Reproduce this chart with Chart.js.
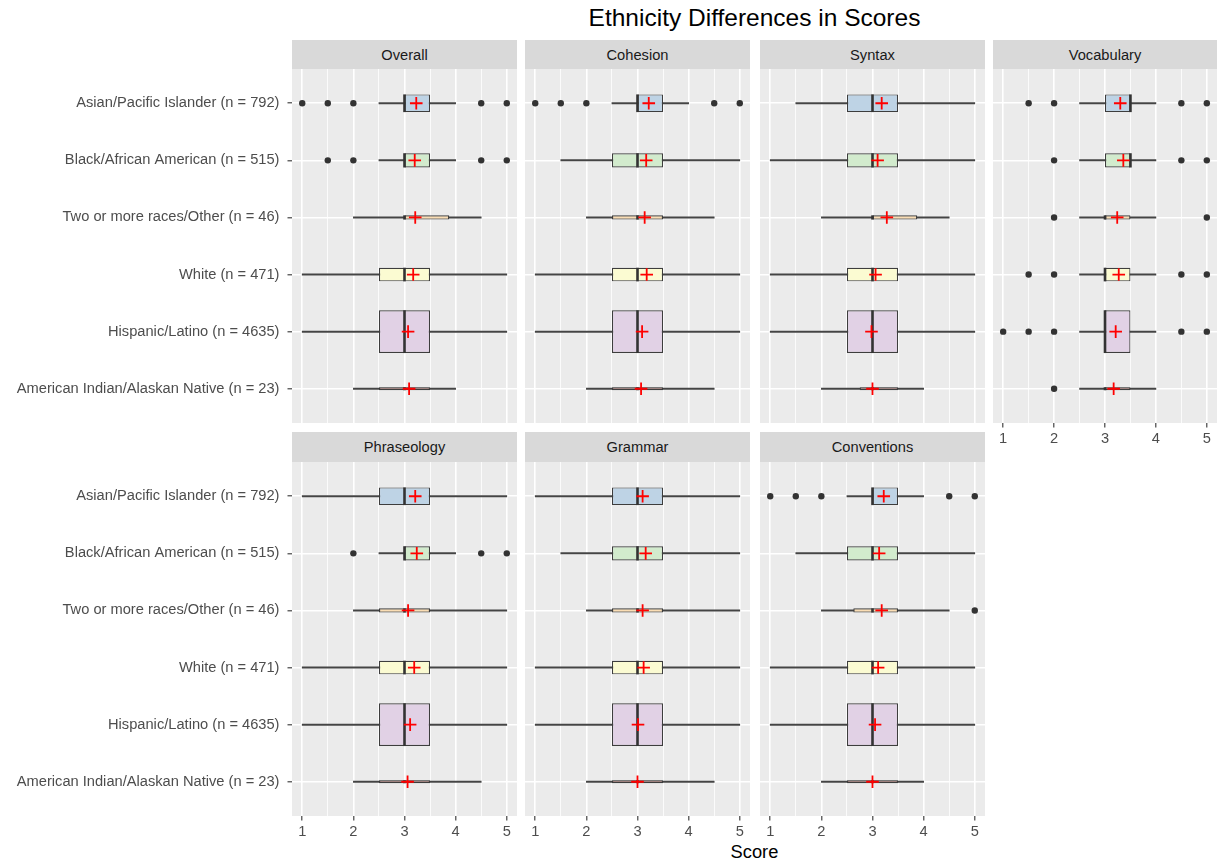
<!DOCTYPE html>
<html>
<head>
<meta charset="utf-8">
<script src="https://cdn.jsdelivr.net/npm/chart.js@4.4.1/dist/chart.umd.min.js"></script>
<style>
  body { margin: 0; background: #fff; }
  #fig { position: relative; width: 1217px; height: 865px; font-family: "Liberation Sans", Arial, sans-serif; overflow: hidden; }
  #fig canvas { position: absolute; }
  .strip { position: absolute; background: #D9D9D9; color: #1A1A1A; font-size: 14.67px;
           display: flex; align-items: center; justify-content: center; }
  #title { position: absolute; left: 292px; width: 925px; top: 6px; text-align: center;
           font-size: 24.5px; line-height: 24.5px; color: #000; }
  #xtitle { position: absolute; left: 292px; width: 925px; top: 843px; text-align: center;
            font-size: 18.3px; line-height: 18.3px; color: #000; }
</style>
</head>
<body>
<div id="fig">
  <div id="title">Ethnicity Differences in Scores</div>
  <div id="xtitle">Score</div>
</div>
<script>
// groups, top to bottom
const groups = [
  "Asian/Pacific Islander (n = 792)",
  "Black/African American (n = 515)",
  "Two or more races/Other (n = 46)",
  "White (n = 471)",
  "Hispanic/Latino (n = 4635)",
  "American Indian/Alaskan Native (n = 23)"
];
const groupN = [792, 515, 46, 471, 4635, 23];
const panels = ["Overall", "Cohesion", "Syntax", "Vocabulary", "Phraseology", "Grammar", "Conventions"];

// box stats, one row per panel, one value per group
const whiskerLow = [
  [2.5, 2.5, 2, 1, 1, 2],
  [2.5, 1.5, 2, 1, 1, 2],
  [1.5, 1, 2, 1, 1, 2],
  [2.5, 2.5, 2.5, 2.5, 2.5, 2.5],
  [1, 2.5, 2, 1, 1, 2],
  [1, 1.5, 2, 1, 1, 2],
  [2.5, 1.5, 2, 1, 1, 2]
];
const q1 = [
  [3, 3, 3, 2.5, 2.5, 2.5],
  [3, 2.5, 2.5, 2.5, 2.5, 2.5],
  [2.5, 2.5, 3, 2.5, 2.5, 2.75],
  [3, 3, 3, 3, 3, 3],
  [2.5, 3, 2.5, 2.5, 2.5, 2.5],
  [2.5, 2.5, 2.5, 2.5, 2.5, 2.5],
  [3, 2.5, 2.625, 2.5, 2.5, 2.5]
];
const median = [
  [3, 3, 3, 3, 3, 3],
  [3, 3, 3, 3, 3, 3],
  [3, 3, 3, 3, 3, 3],
  [3.5, 3.5, 3, 3, 3, 3],
  [3, 3, 3, 3, 3, 3],
  [3, 3, 3, 3, 3, 3],
  [3, 3, 3, 3, 3, 3]
];
const q3 = [
  [3.5, 3.5, 3.875, 3.5, 3.5, 3.5],
  [3.5, 3.5, 3.5, 3.5, 3.5, 3.5],
  [3.5, 3.5, 3.875, 3.5, 3.5, 3.5],
  [3.5, 3.5, 3.5, 3.5, 3.5, 3.5],
  [3.5, 3.5, 3.5, 3.5, 3.5, 3.5],
  [3.5, 3.5, 3.5, 3.5, 3.5, 3.5],
  [3.5, 3.5, 3.5, 3.5, 3.5, 3.5]
];
const whiskerHigh = [
  [4, 4, 4.5, 5, 5, 4],
  [4, 5, 4.5, 5, 5, 4.5],
  [5, 5, 4.5, 5, 5, 4],
  [4, 4, 4, 4, 4, 4],
  [5, 4, 5, 5, 5, 4.5],
  [5, 5, 5, 5, 5, 4.5],
  [4, 5, 4.5, 5, 5, 4]
];
const means = [
  [3.23, 3.20, 3.21, 3.17, 3.07, 3.09],
  [3.22, 3.17, 3.14, 3.18, 3.09, 3.07],
  [3.18, 3.10, 3.28, 3.06, 2.98, 3.00],
  [3.30, 3.36, 3.24, 3.27, 3.21, 3.17],
  [3.21, 3.24, 3.07, 3.19, 3.11, 3.06],
  [3.10, 3.16, 3.10, 3.12, 3.01, 3.00],
  [3.22, 3.13, 3.18, 3.11, 3.05, 3.00]
];
const outliers = [
  [[1, 1.5, 2, 4.5, 5], [1.5, 2, 4.5, 5], [], [], [], []],
  [[1, 1.5, 2, 4.5, 5], [], [], [], [], []],
  [[], [], [], [], [], []],
  [[1.5, 2, 4.5, 5], [2, 4.5, 5], [2, 5], [1.5, 2, 4.5, 5], [1, 1.5, 2, 4.5, 5], [2]],
  [[], [2, 4.5, 5], [], [], [], []],
  [[], [], [], [], [], []],
  [[1, 1.5, 2, 4.5, 5], [], [5], [], [], []]
];
const xTicks = [1, 1.5, 2, 2.5, 3, 3.5, 4, 4.5, 5];
const boxColors = ["#BED3E5", "#D2EBCD", "#FADDB4", "#FBFBD2", "#E1D1E5", "#F8BFBA"];

// panel placement on the page
const layout = [
  { left: 0,   top: 69,  w: 517, h: 354, yLab: true,  xLab: false },
  { left: 525, top: 69,  w: 225, h: 354, yLab: false, xLab: false },
  { left: 760, top: 69,  w: 225, h: 354, yLab: false, xLab: false },
  { left: 993, top: 69,  w: 224, h: 384, yLab: false, xLab: true },
  { left: 0,   top: 462, w: 517, h: 384, yLab: true,  xLab: true },
  { left: 525, top: 462, w: 225, h: 384, yLab: false, xLab: true },
  { left: 760, top: 462, w: 225, h: 384, yLab: false, xLab: true }
];
const Y_AXIS_W = 292;
const maxN = Math.max(...groupN);
function boxWidth(i) { return 0.75 * Math.sqrt(groupN[i] / maxN); }

const panelBg = {
  id: "panelBg",
  beforeDraw(chart) {
    const { ctx, chartArea: a } = chart;
    ctx.save();
    ctx.fillStyle = "#EBEBEB";
    ctx.fillRect(a.left, a.top, a.right - a.left, a.bottom - a.top);
    ctx.restore();
  }
};

const fig = document.getElementById("fig");
const tickFont = { family: "'Liberation Sans', Arial, sans-serif", size: 14.67 };

panels.forEach(function (name, p) {
  const L = layout[p];
  const strip = document.createElement("div");
  strip.className = "strip";
  const off = L.yLab ? Y_AXIS_W : 0;
  strip.style.left = (L.left + off) + "px";
  strip.style.width = (L.w - off) + "px";
  strip.style.top = (p < 4 ? 40 : 432) + "px";
  strip.style.height = (p < 4 ? 29 : 30) + "px";
  strip.textContent = name;
  fig.appendChild(strip);

  const cv = document.createElement("canvas");
  cv.width = L.w;
  cv.height = L.h;
  cv.style.left = L.left + "px";
  cv.style.top = L.top + "px";
  fig.appendChild(cv);

  const datasets = [];
  datasets.push({
    type: "scatter", label: "mean", order: 0,
    data: means[p].map(function (m, i) { return { x: m, y: i + 1 }; }),
    pointStyle: "cross", radius: 6.3, borderColor: "#FF0000", borderWidth: 1.8
  });
  datasets.push({
    type: "scatter", label: "outliers", order: 1,
    data: outliers[p].flatMap(function (arr, i) { return arr.map(function (v) { return { x: v, y: i + 1 }; }); }),
    pointStyle: "circle", radius: 3.2, backgroundColor: "#333333", borderWidth: 0
  });
  datasets.push({
    type: "scatter", label: "median", order: 2,
    data: median[p].map(function (m, i) { return { x: m, y: i + 1 }; }),
    pointStyle: "line", rotation: 90, borderColor: "#333333", borderWidth: 2.6,
    radius: function (ctx) {
      const ys = ctx.chart.scales.y;
      if (!ys) return 10;
      const unit = Math.abs(ys.getPixelForValue(2) - ys.getPixelForValue(1));
      return unit * boxWidth(ctx.dataIndex) / 2;
    }
  });
  groups.forEach(function (g, i) {
    datasets.push({
      type: "bar", indexAxis: "y", label: g, order: 3,
      data: [{ x: [q1[p][i], q3[p][i]], y: i + 1 }],
      backgroundColor: boxColors[i], borderColor: "#3D3D3D", borderWidth: 1.2,
      borderSkipped: false, grouped: false,
      barPercentage: boxWidth(i), categoryPercentage: 1
    });
  });
  datasets.push({
    type: "bar", indexAxis: "y", label: "whiskers", order: 4,
    data: groups.map(function (g, i) { return { x: [whiskerLow[p][i], whiskerHigh[p][i]], y: i + 1 }; }),
    backgroundColor: "#444444", borderWidth: 0, barThickness: 1.3, grouped: false
  });

  new Chart(cv, {
    type: "bar",
    data: { datasets: datasets },
    plugins: [panelBg],
    options: {
      indexAxis: "y",
      responsive: false,
      animation: false,
      events: [],
      layout: { padding: 0, autoPadding: false },
      plugins: { legend: { display: false }, tooltip: { enabled: false } },
      scales: {
        x: {
          type: "linear", min: 0.8, max: 5.2, offset: false,
          afterBuildTicks: function (s) { s.ticks = xTicks.map(function (v) { return { value: v }; }); },
          afterFit: function (s) { s.height = L.xLab ? 30 : 0; s.paddingLeft = 0; s.paddingRight = 0; },
          border: { display: false },
          grid: {
            offset: false,
            color: "#FFFFFF",
            lineWidth: function (c) { return Number.isInteger(c.tick.value) ? 1.6 : 0.8; },
            drawTicks: L.xLab, tickLength: 4.5, tickWidth: 1.1,
            tickColor: function (c) { return Number.isInteger(c.tick.value) ? "#333333" : "rgba(0,0,0,0)"; }
          },
          ticks: {
            display: L.xLab, autoSkip: false, maxRotation: 0, padding: 3,
            color: "#4D4D4D", font: tickFont,
            callback: function (v) { return Number.isInteger(v) ? String(v) : ""; }
          }
        },
        y: {
          type: "linear", min: 0.4, max: 6.6, reverse: true, offset: false,
          afterBuildTicks: function (s) { s.ticks = groups.map(function (g, i) { return { value: i + 1 }; }); },
          afterFit: function (s) { s.width = L.yLab ? Y_AXIS_W : 0; s.paddingTop = 0; s.paddingBottom = 0; },
          border: { display: false },
          grid: {
            offset: false,
            color: "#FFFFFF", lineWidth: 1.6,
            drawTicks: L.yLab, tickLength: 4.5, tickWidth: 1.1, tickColor: "#333333"
          },
          ticks: {
            display: L.yLab, autoSkip: false, padding: 8,
            color: "#4D4D4D", font: tickFont,
            callback: function (v) { return groups[Math.round(v) - 1]; }
          }
        }
      }
    }
  });
});
</script>
</body>
</html>
